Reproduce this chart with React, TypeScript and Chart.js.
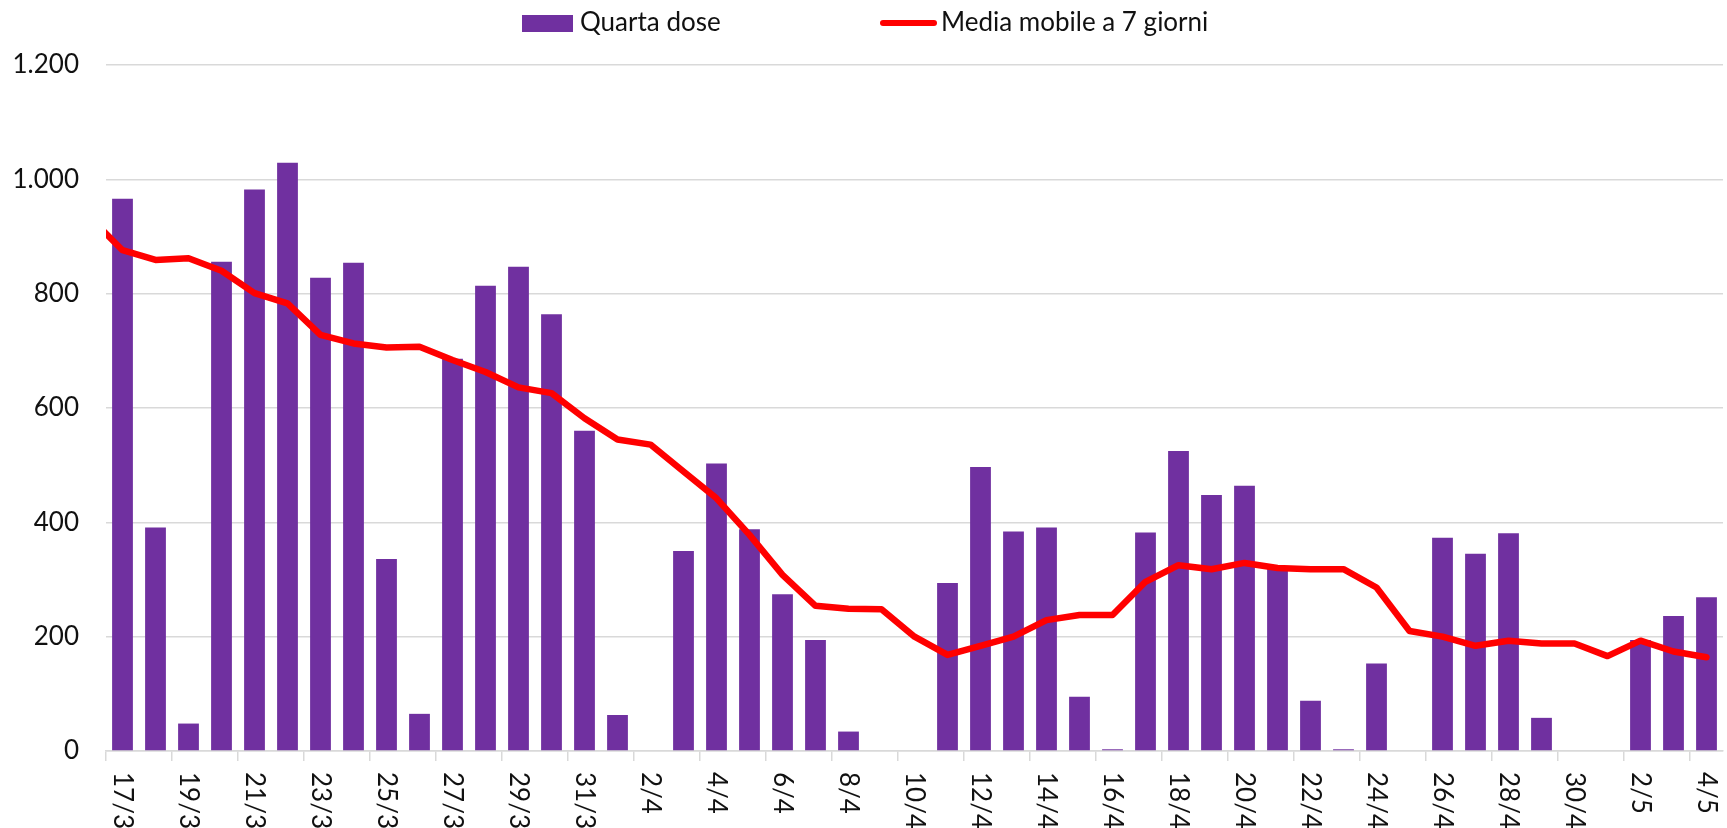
import React, { useEffect, useRef } from "react";
import { Chart, registerables } from "chart.js";

Chart.register(...registerables);

const categories: string[] = [
  "17/3", "18/3", "19/3", "20/3", "21/3", "22/3", "23/3", "24/3", "25/3", "26/3",
  "27/3", "28/3", "29/3", "30/3", "31/3",
  "1/4", "2/4", "3/4", "4/4", "5/4", "6/4", "7/4", "8/4", "9/4", "10/4",
  "11/4", "12/4", "13/4", "14/4", "15/4", "16/4", "17/4", "18/4", "19/4", "20/4",
  "21/4", "22/4", "23/4", "24/4", "25/4", "26/4", "27/4", "28/4", "29/4", "30/4",
  "1/5", "2/5", "3/5", "4/5",
];

const quartaDose: number[] = [
  966, 391, 48, 856, 982, 1029, 828, 854, 336, 65,
  686, 814, 847, 764, 560,
  63, 0, 350, 503, 388, 274, 194, 34, 0, 0,
  294, 497, 384, 391, 95, 3, 382, 525, 448, 464,
  320, 88, 3, 153, 0, 373, 345, 381, 58, 0,
  0, 194, 236, 269,
];

// 7-day moving average; the first value belongs to 16/3, just left of the visible range
const mediaMobilePrev = 934;
const mediaMobile: number[] = [
  876, 859, 862, 840, 801, 783, 728, 713, 706, 707,
  684, 663, 636, 626, 582,
  545, 536, 489, 442, 378, 308, 254, 249, 248, 200,
  168, 184, 200, 229, 238, 238, 296, 325, 318, 329,
  320, 318, 318, 286, 210, 200, 184, 193, 188, 188,
  166, 193, 174, 164,
];

const yTicks: number[] = [0, 200, 400, 600, 800, 1000, 1200];

const SERIES_BAR = "Quarta dose";
const SERIES_LINE = "Media mobile a 7 giorni";

const PURPLE = "#7030A0";
const RED = "#FF0000";
const GRID = "#d9d9d9";
const TEXT = "#111111";
const FONT_FAMILY = "Lato";
const FONT_SIZE = 26;

function fmt(v: number): string {
  return String(v).replace(/\B(?=(\d{3})+(?!\d))/g, ".");
}

const xLabelPlugin = {
  id: "xLabelsRotated",
  afterDraw(chart: any) {
    const sc = chart.scales.x;
    const ctx = chart.ctx;
    ctx.save();
    ctx.font = `${FONT_SIZE}px ${FONT_FAMILY}`;
    ctx.fillStyle = TEXT;
    ctx.textAlign = "left";
    ctx.textBaseline = "middle";
    categories.forEach((lab, i) => {
      if (i % 2 !== 0) return;
      const x = sc.getPixelForTick(i);
      ctx.save();
      ctx.translate(x, sc.top + 21);
      ctx.rotate(Math.PI / 2);
      ctx.fillText(lab, 0, 0);
      ctx.restore();
    });
    ctx.restore();
  },
};

export default function App() {
  const canvasRef = useRef<HTMLCanvasElement | null>(null);

  useEffect(() => {
    let chart: Chart | null = null;
    let cancelled = false;
    const make = () => {
      if (cancelled || !canvasRef.current) return;
      chart = new Chart(canvasRef.current, {
        type: "bar",
        data: {
          labels: categories,
          datasets: [
            {
              type: "line",
              label: SERIES_LINE,
              xAxisID: "x2",
              data: [
                { x: -1, y: mediaMobilePrev },
                ...mediaMobile.map((v, i) => ({ x: i, y: v })),
              ] as any,
              borderColor: RED,
              borderWidth: 6.5,
              pointRadius: 0,
              tension: 0,
              borderCapStyle: "round",
              borderJoinStyle: "round",
              clip: { left: 0, right: 5, top: 5, bottom: 5 } as any,
              order: 0,
            } as any,
            {
              type: "bar",
              label: SERIES_BAR,
              data: quartaDose,
              backgroundColor: PURPLE,
              borderWidth: 0,
              grouped: false,
              barPercentage: 0.63,
              categoryPercentage: 1,
              order: 1,
            },
          ],
        },
        options: {
          animation: false,
          responsive: false,
          maintainAspectRatio: false,
          layout: { padding: { top: 65, right: 4, left: 0, bottom: 0 } },
          plugins: {
            legend: { display: false },
            tooltip: { enabled: false },
          },
          scales: {
            x: {
              type: "category",
              offset: true,
              ticks: { display: false },
              grid: {
                display: true,
                offset: true,
                drawOnChartArea: false,
                drawTicks: true,
                tickLength: 10,
                lineWidth: 1.5,
                color: (ctx: any) => (ctx.index % 2 === 0 ? GRID : "rgba(0,0,0,0)"),
              },
              border: { display: true, color: GRID, width: 1.5 },
              afterFit: (scale: any) => {
                scale.height = 77;
              },
            },
            x2: {
              type: "linear",
              display: false,
              min: -0.5,
              max: categories.length - 0.5,
              offset: false,
            },
            y: {
              min: yTicks[0],
              max: yTicks[yTicks.length - 1],
              afterBuildTicks: (scale: any) => {
                scale.ticks = yTicks.map((v) => ({ value: v }));
              },
              ticks: {
                callback: (v: any) => fmt(Number(v)),
                font: { family: FONT_FAMILY, size: FONT_SIZE },
                color: TEXT,
                padding: 27,
              },
              grid: { color: GRID, lineWidth: 1.5, drawTicks: false },
              border: { display: false },
              afterFit: (scale: any) => {
                scale.width = 106;
              },
            },
          },
        },
        plugins: [xLabelPlugin],
      });
    };
    const fontsApi = (document as any).fonts;
    if (fontsApi && fontsApi.load) {
      fontsApi.load(`${FONT_SIZE}px ${FONT_FAMILY}`).then(make, make);
    } else {
      make();
    }
    return () => {
      cancelled = true;
      if (chart) chart.destroy();
    };
  }, []);

  const textStyle: React.CSSProperties = {
    position: "absolute",
    top: 6,
    fontFamily: FONT_FAMILY,
    fontSize: FONT_SIZE,
    lineHeight: "31px",
    color: TEXT,
    whiteSpace: "nowrap",
  };

  return (
    <div
      style={{
        position: "fixed",
        left: 0,
        top: 0,
        width: 1727,
        height: 828,
        background: "#ffffff",
        overflow: "hidden",
      }}
    >
      <canvas ref={canvasRef} width={1727} height={828} style={{ position: "absolute", left: 0, top: 0 }} />
      <div style={{ position: "absolute", left: 522, top: 15, width: 51, height: 17, background: PURPLE }} />
      <div style={{ ...textStyle, left: 580 }}>{SERIES_BAR}</div>
      <div
        style={{
          position: "absolute",
          left: 880,
          top: 20,
          width: 57,
          height: 6,
          background: RED,
          borderRadius: 3,
        }}
      />
      <div style={{ ...textStyle, left: 941 }}>{SERIES_LINE}</div>
    </div>
  );
}
